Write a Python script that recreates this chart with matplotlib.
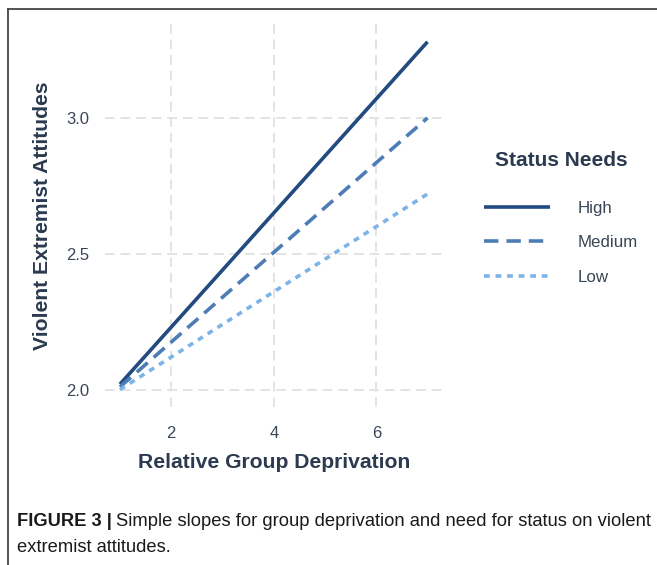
import matplotlib
matplotlib.use("Agg")
import matplotlib.pyplot as plt
from matplotlib.lines import Line2D
from matplotlib import font_manager as fm

deprivation = [1, 7]
groups = ["High", "Medium", "Low"]
high_vals = [2.02, 3.28]
medium_vals = [2.01, 3.00]
low_vals = [2.00, 2.72]
x_ticks = [2, 4, 6]
y_ticks = [2.0, 2.5, 3.0]

names = {f.name for f in fm.fontManager.ttflist}
base = "Liberation Sans" if "Liberation Sans" in names else "DejaVu Sans"
plt.rcParams['font.family'] = [base, 'DejaVu Sans']

W, H = 657, 565
fig = plt.figure(figsize=(W/100, H/100), dpi=100)
ax = fig.add_axes([104.6/W, 1-407/H, (442.9-104.6)/W, (407-24.4)/H])

txt = "#2B3A4F"
series = [
    (high_vals, "#234B80", "-", "High"),
    (medium_vals, "#4E7DB6", (0, (4, 2.2)), "Medium"),
    (low_vals, "#7DB4E8", (0, (1.6, 1.6)), "Low"),
]
for vals, col, ls, lab in series:
    ax.plot(deprivation, vals, color=col, linestyle=ls, linewidth=2.6, label=lab,
            solid_capstyle='butt', dash_capstyle='butt')

ax.set_xlim(0.7, 7.3)
ax.set_ylim(1.936, 3.344)
ax.set_xticks(x_ticks)
ax.set_yticks(y_ticks)
ax.set_yticklabels([f"{v:.1f}" for v in y_ticks])
ax.grid(True, color="#E3E3E3", linestyle=(0, (5, 3)), linewidth=1.4)
ax.set_axisbelow(True)
for s in ax.spines.values():
    s.set_visible(False)
ax.tick_params(length=0, labelsize=12, labelcolor="#3A4656")
ax.tick_params(axis='y', pad=11)
ax.tick_params(axis='x', pad=14)

ax.set_xlabel("Relative Group Deprivation", fontsize=15.2, fontweight="bold", color=txt, labelpad=8)
ax.set_ylabel("Violent Extremist Attitudes", fontsize=15.2, fontweight="bold", color=txt, labelpad=10)

leg = ax.legend(loc="upper left", bbox_to_anchor=(469/W, 1-136/H), bbox_transform=fig.transFigure,
                frameon=False, title="Status Needs", handlelength=3.9, handletextpad=1.6,
                labelspacing=1.15, fontsize=12.2, title_fontproperties={'weight': 'bold', 'size': 15})
for t in leg.get_texts():
    t.set_color("#3A4656")
leg.get_title().set_color(txt)
leg._legend_box.sep = 22

# page frame lines
fig.add_artist(Line2D([8/W, 1], [1-9/H, 1-9/H], color="#444444", linewidth=1.3, transform=fig.transFigure))
fig.add_artist(Line2D([8/W, 8/W], [0, 1-9/H], color="#444444", linewidth=1.3, transform=fig.transFigure))

# caption
y1 = 1-521/H
t1 = fig.text(17/W, y1, "FIGURE 3 |", fontsize=13.2, fontweight="bold", color="#1A1A1A", va="center")
fig.canvas.draw()
bb = t1.get_window_extent()
fig.text((bb.x1 + 4)/W, y1, "Simple slopes for group deprivation and need for status on violent",
         fontsize=13.2, color="#1A1A1A", va="center")
fig.text(17/W, 1-547/H, "extremist attitudes.", fontsize=13.2, color="#1A1A1A", va="center")

fig.savefig("out.png", dpi=100)
